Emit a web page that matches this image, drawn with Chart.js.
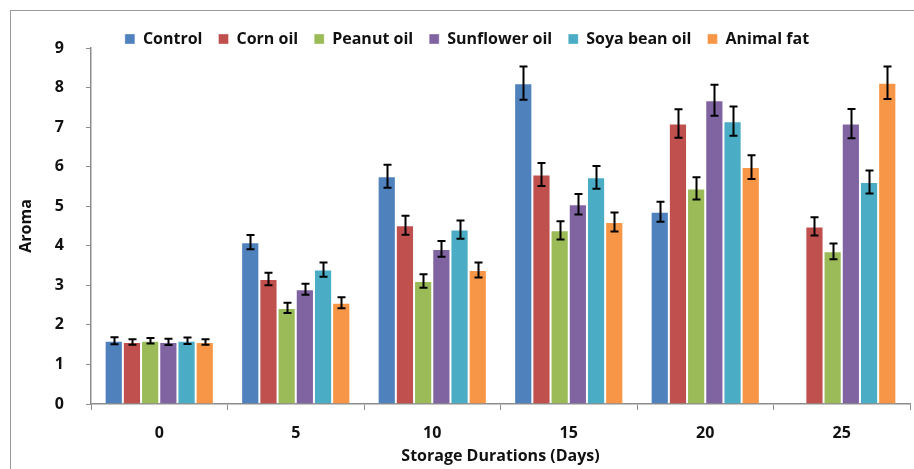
<!DOCTYPE html>
<html>
<head>
<meta charset="utf-8">
<script src="https://cdn.jsdelivr.net/npm/chart.js@4/dist/chart.umd.min.js"></script>
<style>
  html, body { margin: 0; padding: 0; background: #fff; }
  #wrap { width: 914px; height: 469px; }
</style>
</head>
<body>
<div id="wrap"><canvas id="chart_aroma"></canvas></div>
<script>
// Data
var days = ["0", "5", "10", "15", "20", "25"];
var series = ["Control", "Corn oil", "Peanut oil", "Sunflower oil", "Soya bean oil", "Animal fat"];
var control   = [1.60, 4.09, 5.76, 8.11, 4.86, null];
var cornOil   = [1.57, 3.16, 4.52, 5.80, 7.09, 4.49];
var peanutOil = [1.60, 2.43, 3.11, 4.39, 5.45, 3.86];
var sunflower = [1.57, 2.90, 3.92, 5.05, 7.68, 7.09];
var soyaBean  = [1.60, 3.40, 4.41, 5.73, 7.15, 5.61];
var animalFat = [1.57, 2.56, 3.39, 4.60, 5.99, 8.12];
// error (+/-)
var controlErr   = [0.09, 0.18, 0.29, 0.42, 0.25, null];
var cornOilErr   = [0.07, 0.16, 0.24, 0.29, 0.36, 0.23];
var peanutOilErr = [0.07, 0.13, 0.17, 0.23, 0.28, 0.20];
var sunflowerErr = [0.08, 0.14, 0.20, 0.26, 0.39, 0.37];
var soyaBeanErr  = [0.08, 0.18, 0.23, 0.29, 0.37, 0.29];
var animalFatErr = [0.07, 0.14, 0.19, 0.24, 0.30, 0.41];
var yTicks = [0, 1, 2, 3, 4, 5, 6, 7, 8, 9];

var values = [control, cornOil, peanutOil, sunflower, soyaBean, animalFat];
var errors = [controlErr, cornOilErr, peanutOilErr, sunflowerErr, soyaBeanErr, animalFatErr];
var colors = ["#4F81BD", "#C0504D", "#9BBB59", "#8064A2", "#4BACC6", "#F79646"];

var axisGray = "#8c8c8c";
var textColor = "#111";

Chart.defaults.font.family = "'Open Sans', sans-serif";
Chart.defaults.font.size = 15;
Chart.defaults.font.weight = "bold";
Chart.defaults.color = textColor;

// outer frame like the excel chart border
var frame = {
  id: 'frame',
  beforeDraw: function(chart) {
    var ctx = chart.ctx;
    ctx.save();
    ctx.strokeStyle = "#9a9a9a";
    ctx.lineWidth = 1;
    ctx.strokeRect(10.5, 10.5, 1000, 1000);
    ctx.restore();
  }
};

// keep legend short so plot area starts right under it,
// but let it paint past its box (legend clips to its own area)
var legendFit = {
  id: 'legendFit',
  beforeInit: function(chart) {
    var orig = chart.legend.fit;
    chart.legend.fit = function() {
      orig.bind(chart.legend)();
      this.height = 33;
    };
  },
  afterLayout: function(chart) {
    var lg = chart.legend;
    lg.bottom = lg.top + 50;
    lg.left += 12;   // excel legend sits a bit right of centre
    lg.right += 12;
  }
};

var errorBars = {
  id: 'errorBars',
  afterDatasetsDraw: function(chart) {
    var ctx = chart.ctx;
    var y = chart.scales.y;
    ctx.save();
    ctx.strokeStyle = "#000";
    ctx.lineWidth = 2;
    chart.data.datasets.forEach(function(ds, i) {
      var meta = chart.getDatasetMeta(i);
      meta.data.forEach(function(bar, j) {
        var v = ds.data[j], e = errors[i][j];
        if (v == null || e == null) return;
        var top = y.getPixelForValue(v + e);
        var bot = y.getPixelForValue(v - e);
        var x = Math.round(bar.x) + 0.5;
        ctx.beginPath();
        ctx.moveTo(x, top); ctx.lineTo(x, bot);
        ctx.moveTo(x - 4, top); ctx.lineTo(x + 4, top);
        ctx.moveTo(x - 4, bot); ctx.lineTo(x + 4, bot);
        ctx.stroke();
      });
    });
    ctx.restore();
  }
};

var datasets = series.map(function(name, i) {
  return {
    label: name,
    data: values[i],
    backgroundColor: colors[i],
    borderColor: "rgba(255,255,255,0.35)",
    borderWidth: 1,
    categoryPercentage: 0.8,
    barPercentage: 1.0
  };
});

var config = {
  type: 'bar',
  data: { labels: days, datasets: datasets },
  options: {
    responsive: true,
    maintainAspectRatio: false,
    animation: false,
    layout: { padding: { top: 15, right: 4, left: 0, bottom: 0 } },
    plugins: {
      legend: {
        position: 'top',
        labels: {
          boxWidth: 10,
          boxHeight: 10,
          padding: 16,
          color: textColor,
          font: { size: 16, weight: 'bold' }
        }
      },
      tooltip: { enabled: false }
    },
    scales: {
      x: {
        grid: { display: true, drawOnChartArea: false, drawTicks: true, tickLength: 6, color: axisGray, offset: true },
        border: { display: true, color: axisGray, width: 1.5 },
        ticks: { padding: 14, font: { size: 16, weight: 'bold' }, color: textColor },
        title: {
          display: true,
          text: "Storage Durations (Days)",
          font: { size: 16, weight: 'bold' },
          color: textColor,
          padding: { top: 0, bottom: 3 }
        },
        afterFit: function(scale) { scale.height = 65; }
      },
      y: {
        min: 0,
        max: 9,
        afterBuildTicks: function(scale) {
          scale.ticks = yTicks.map(function(v) { return { value: v }; });
        },
        grid: { display: true, drawOnChartArea: false, drawTicks: true, tickLength: 5, color: axisGray },
        border: { display: true, color: axisGray, width: 1.5 },
        ticks: { padding: 22, font: { size: 16, weight: 'bold' }, color: textColor },
        title: {
          display: true,
          text: "Aroma",
          font: { size: 16, weight: 'bold' },
          color: textColor,
          padding: { top: 17, bottom: 0 }
        },
        afterFit: function(scale) { scale.width = 91; }
      }
    }
  },
  plugins: [frame, legendFit, errorBars]
};

var ctx = document.getElementById("chart_aroma");
var ch_aroma = new Chart(ctx, config);
</script>
</body>
</html>
